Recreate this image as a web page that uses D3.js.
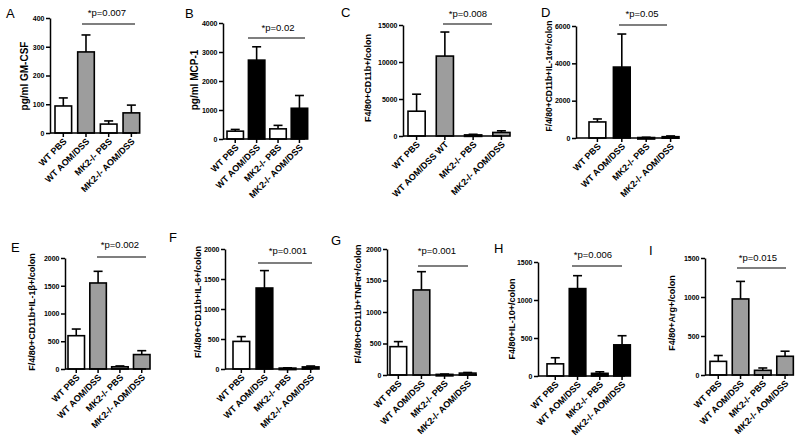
<!DOCTYPE html>
<html><head><meta charset="utf-8">
<script src="https://cdn.jsdelivr.net/npm/d3@7"></script>
<style>
html,body{margin:0;padding:0;background:#fff;}
svg{display:block;font-family:"Liberation Sans",Arial,sans-serif;}
</style></head>
<body><svg id="c" width="800" height="444"></svg>
<script>
// ---- data ----
const groups = ["WT PBS", "WT AOM/DSS", "MK2-/- PBS", "MK2-/- AOM/DSS"];
const groupsC = ["WT PBS", "WT AOM/DSS WT", "MK2-/- PBS", "MK2-/- AOM/DSS"];

const meanA = [94, 282, 31, 70];       const semA = [28, 59, 11, 27];
const meanB = [270, 2720, 350, 1060];  const semB = [60, 460, 120, 440];
const meanC = [3350, 10800, 150, 480]; const semC = [2300, 3250, 80, 220];
const meanD = [860, 3800, 25, 70];     const semD = [160, 1770, 15, 40];
const meanE = [600, 1550, 40, 260];    const semE = [120, 210, 15, 70];
const meanF = [460, 1350, 15, 35];     const semF = [80, 290, 5, 15];
const meanG = [450, 1350, 10, 30];     const semG = [80, 290, 5, 10];
const meanH = [160, 1150, 35, 410];    const semH = [80, 170, 20, 120];
const meanI = [175, 975, 60, 240];     const semI = [75, 225, 30, 65];

const ticksA = [0, 100, 200, 300, 400];
const ticksB = [0, 1000, 2000, 3000, 4000];
const ticksC = [0, 5000, 10000, 15000];
const ticksD = [0, 2000, 4000, 6000];
const ticks2000 = [0, 500, 1000, 1500, 2000];
const ticks1500 = [0, 500, 1000, 1500];

const WHITE = "#ffffff", GRAY = "#9d9d9d", BLACK = "#000000";
const colGray = [WHITE, GRAY, GRAY, GRAY];
const colBlack = [WHITE, BLACK, BLACK, BLACK];
const colA = [WHITE, GRAY, WHITE, GRAY];
const colB = [WHITE, BLACK, WHITE, BLACK];

const titles = {
  A: "pg/ml GM-CSF", B: "pg/ml MCP-1", C: "F4/80+CD11b+/colon",
  D: "F/4/80+CD11b+IL-1\u03b1+/colon", E: "F/4/80+CD11b+IL-1\u03b2+/colon",
  F: "F/4/80+CD11b+IL-6+/colon", G: "F/4/80+CD11b+TNF\u03b1+/colon",
  H: "F4/80+IL-10+/colon", I: "F4/80+Arg+/colon"
};
const pvals = {A:"*p=0.007",B:"*p=0.02",C:"*p=0.008",D:"*p=0.05",E:"*p=0.002",F:"*p=0.001",G:"*p=0.001",H:"*p=0.006",I:"*p=0.015"};

// ---- layout ----
const panels = [
  {id:"A", mean:meanA, sem:semA, ticks:ticksA, cats:groups, cols:colA,
   ax:50, axEnd:137, b0:55, b1:134, y0:133, y1:18, letter:[6,18], tx:25, ty:76, tfs:10, p:[107,16,82,135,24]},
  {id:"B", mean:meanB, sem:semB, ticks:ticksB, cats:groups, cols:colB,
   ax:223, axEnd:305, b0:227, b1:303, y0:139, y1:23, letter:[185,18], tx:195, ty:80, tfs:10, p:[278,31,248,305,38]},
  {id:"C", mean:meanC, sem:semC, ticks:ticksC, cats:groupsC, cols:colGray,
   ax:403, axEnd:502, b0:408, b1:500, y0:136, y1:25, letter:[341,17], tx:369, ty:78, tfs:9, p:[468,17,443,492,24]},
  {id:"D", mean:meanD, sem:semD, ticks:ticksD, cats:groups, cols:colBlack,
   ax:576, axEnd:678, b0:589, b1:672, y0:138, y1:26, letter:[541,17], tx:550, ty:76, tfs:8.5, p:[642,17,619,667,25]},
  {id:"E", mean:meanE, sem:semE, ticks:ticks2000, cats:groups, cols:colGray,
   ax:65, axEnd:146, b0:68, b1:145, y0:369, y1:258, letter:[11,252], tx:33, ty:312, tfs:9, p:[120,248,97,146,257]},
  {id:"F", mean:meanF, sem:semF, ticks:ticks2000, cats:groups, cols:colBlack,
   ax:225, axEnd:313, b0:233, b1:313, y0:369, y1:249, letter:[169,242], tx:199, ty:302, tfs:9, p:[288,254,258,312,263]},
  {id:"G", mean:meanG, sem:semG, ticks:ticks2000, cats:groups, cols:colGray,
   ax:387, axEnd:477, b0:390, b1:470, y0:375, y1:249, letter:[331,245], tx:359, ty:304, tfs:9, p:[437,254,418,468,266]},
  {id:"H", mean:meanH, sem:semH, ticks:ticks1500, cats:groups, cols:colBlack,
   ax:538, axEnd:625, b0:547, b1:625, y0:376, y1:262, letter:[494,253], tx:513, ty:319, tfs:9, p:[593,258,572,622,266]},
  {id:"I", mean:meanI, sem:semI, ticks:ticks1500, cats:groups, cols:colGray,
   ax:705, axEnd:788, b0:710, b1:788, y0:375, y1:258, letter:[649,255], tx:673, ty:313, tfs:9, p:[758,261,737,786,268]}
];

const svg = d3.select("#c");
const fmt = d3.format("d");

panels.forEach(P => {
  const g = svg.append("g");
  const ymax = P.ticks[P.ticks.length-1];
  const y = d3.scaleLinear().domain([0, ymax]).range([P.y0, P.y1]);
  const bw = 15.5;
  const n = P.cats.length;
  const span = P.b1 - P.b0;
  const step = (span - bw) / (n - 1);
  const x = d3.scaleBand().domain(P.cats)
    .range([P.b0, P.b0 + step * n])
    .paddingInner(1 - bw / step).paddingOuter(0).align(0);

  // y axis
  const yAxis = d3.axisLeft(y).tickValues(P.ticks).tickFormat(fmt)
    .tickSize(4).tickPadding(1.5).tickSizeOuter(0);
  const ya = g.append("g").attr("transform", `translate(${P.ax},0)`).call(yAxis);
  ya.select(".domain").attr("stroke", "#000").attr("stroke-width", 1.5);
  ya.selectAll(".tick line").attr("stroke-width", 1.5);
  ya.selectAll("text").attr("font-size", 7).attr("font-weight", "bold")
    .attr("font-family", "Liberation Sans, Arial, sans-serif");

  // bars
  g.selectAll("rect.bar").data(P.mean).enter().append("rect")
    .attr("x", (d, i) => x(P.cats[i]))
    .attr("width", x.bandwidth())
    .attr("y", d => y(d))
    .attr("height", d => Math.max(1.5, P.y0 - y(d)))
    .attr("fill", (d, i) => P.cols[i])
    .attr("stroke", "#000").attr("stroke-width", 1.6);

  // error bars (upper only)
  P.mean.forEach((m, i) => {
    const cx = x(P.cats[i]) + x.bandwidth()/2;
    const top = y(m + P.sem[i]);
    g.append("line").attr("x1", cx).attr("x2", cx).attr("y1", y(m)).attr("y2", top)
      .attr("stroke", "#000").attr("stroke-width", 1.6);
    g.append("line").attr("x1", cx - 4.5).attr("x2", cx + 4.5).attr("y1", top).attr("y2", top)
      .attr("stroke", "#000").attr("stroke-width", 1.6);
  });

  // x axis
  const xa = g.append("g");
  xa.append("line").attr("x1", P.ax).attr("x2", P.axEnd).attr("y1", P.y0).attr("y2", P.y0)
    .attr("stroke", "#000").attr("stroke-width", 1.6);
  P.cats.forEach((c, i) => {
    const cx = x(c) + x.bandwidth()/2;
    xa.append("line").attr("x1", cx).attr("x2", cx).attr("y1", P.y0).attr("y2", P.y0 + 4)
      .attr("stroke", "#000").attr("stroke-width", 1.5);
    xa.append("text")
      .attr("transform", `translate(${cx + 4},${P.y0 + 9}) rotate(-45)`)
      .attr("text-anchor", "end")
      .attr("font-size", 9).attr("font-weight", "bold")
      .text(c);
  });

  // y title
  g.append("text")
    .attr("transform", `translate(${P.tx},${P.ty}) rotate(-90)`)
    .attr("text-anchor", "middle").attr("dominant-baseline", "middle")
    .attr("font-size", P.tfs).attr("font-weight", "bold")
    .text(titles[P.id]);

  // panel letter
  g.append("text").attr("x", P.letter[0]).attr("y", P.letter[1])
    .attr("font-size", 13).text(P.id);

  // p value
  g.append("text").attr("x", P.p[0]).attr("y", P.p[1]).attr("text-anchor", "middle")
    .attr("font-size", 9.5).text(pvals[P.id]);
  g.append("line").attr("x1", P.p[2]).attr("x2", P.p[3]).attr("y1", P.p[4]).attr("y2", P.p[4])
    .attr("stroke", "#000").attr("stroke-width", 1.1);
});
</script></body></html>
